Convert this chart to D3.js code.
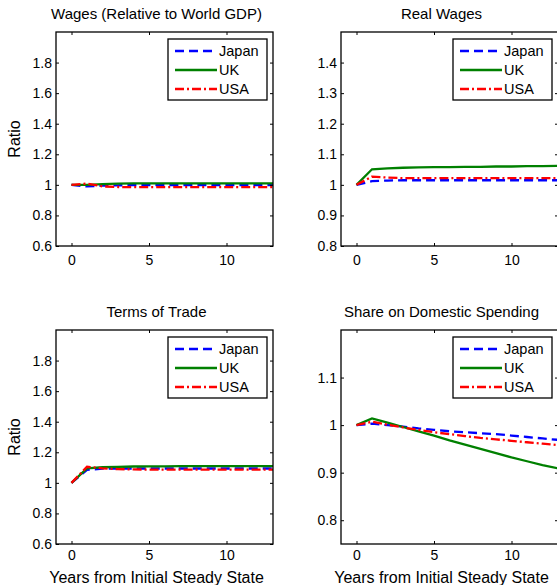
<html>
<head>
  <meta charset="utf-8">
  <title>Steady state transition</title>
  <script src="https://d3js.org/d3.v7.min.js"></script>
  <style>
    body { margin: 0; overflow: hidden; background: #fff; }
    text { font-family: Arial, "Liberation Sans", sans-serif; fill: #000; }
  </style>
</head>
<body>
<div id="chart"></div>
<script>
// years after the shock (the plots are cut at 13)
const years = [0, 1, 2, 3, 4, 5, 6, 7, 8, 9, 10, 11, 12, 13];
const countries = ["Japan", "UK", "USA"];

// Wages (Relative to World GDP)
const wagesJapan = [1.0, 0.99, 0.995, 0.997, 0.998, 0.998, 0.998, 0.998, 0.998, 0.998, 0.998, 0.998, 0.998, 0.998];
const wagesUK    = [1.0, 1.0, 1.005, 1.008, 1.01, 1.01, 1.01, 1.01, 1.01, 1.01, 1.01, 1.01, 1.01, 1.01];
const wagesUSA   = [1.0, 1.008, 0.99, 0.986, 0.985, 0.985, 0.985, 0.985, 0.985, 0.985, 0.985, 0.985, 0.985, 0.985];

// Real Wages
const realJapan = [1.0, 1.012, 1.014, 1.015, 1.015, 1.015, 1.015, 1.015, 1.015, 1.015, 1.015, 1.015, 1.015, 1.015];
const realUK    = [1.0, 1.051, 1.054, 1.056, 1.057, 1.058, 1.058, 1.059, 1.059, 1.06, 1.06, 1.061, 1.061, 1.062];
const realUSA   = [1.0, 1.027, 1.024, 1.022, 1.022, 1.022, 1.022, 1.022, 1.022, 1.022, 1.022, 1.022, 1.022, 1.022];

// Terms of Trade
const totJapan = [1.0, 1.085, 1.093, 1.094, 1.094, 1.094, 1.094, 1.094, 1.094, 1.094, 1.094, 1.094, 1.094, 1.094];
const totUK    = [1.0, 1.095, 1.102, 1.105, 1.107, 1.108, 1.108, 1.109, 1.109, 1.109, 1.11, 1.11, 1.11, 1.11];
const totUSA   = [1.0, 1.105, 1.095, 1.09, 1.088, 1.087, 1.087, 1.087, 1.087, 1.087, 1.087, 1.087, 1.087, 1.087];

// Share on Domestic Spending
const shareJapan = [1.0, 1.003, 1.0, 0.997, 0.993, 0.99, 0.987, 0.985, 0.983, 0.981, 0.978, 0.975, 0.972, 0.969];
const shareUK    = [1.0, 1.014, 1.005, 0.996, 0.987, 0.978, 0.968, 0.959, 0.95, 0.941, 0.932, 0.924, 0.916, 0.909];
const shareUSA   = [1.0, 1.007, 1.001, 0.995, 0.99, 0.985, 0.981, 0.977, 0.973, 0.97, 0.967, 0.964, 0.961, 0.958];

const xTicks = [0, 5, 10];
const yTicksWide = [0.6, 0.8, 1, 1.2, 1.4, 1.6, 1.8];
const yTicksReal = [0.8, 0.9, 1, 1.1, 1.2, 1.3, 1.4];
const yTicksShare = [0.8, 0.9, 1, 1.1];

const colors = {Japan: "#0000ff", UK: "#008000", USA: "#ff0000"};
const dashes = {Japan: "9,5", UK: null, USA: "9,3,2,3"};

const panels = [
  {title: "Wages (Relative to World GDP)", ylabel: "Ratio", xlabel: null,
   yDomain: [0.6, 2.0], yTicks: yTicksWide, data: [wagesJapan, wagesUK, wagesUSA],
   left: 56, top: 32, pad: 9},
  {title: "Real Wages", ylabel: null, xlabel: null,
   yDomain: [0.8, 1.5], yTicks: yTicksReal, data: [realJapan, realUK, realUSA],
   left: 341, top: 32, pad: 9},
  {title: "Terms of Trade", ylabel: "Ratio", xlabel: "Years from Initial Steady State",
   yDomain: [0.6, 2.0], yTicks: yTicksWide, data: [totJapan, totUK, totUSA],
   left: 56, top: 330, pad: 6},
  {title: "Share on Domestic Spending", ylabel: null, xlabel: "Years from Initial Steady State",
   yDomain: [0.75, 1.2], yTicks: yTicksShare, data: [shareJapan, shareUK, shareUSA],
   left: 341, top: 330, pad: 6}
];

const W = 217, H = 214;

const svg = d3.select("#chart").append("svg")
    .attr("width", 620)
    .attr("height", 585);

const fmt = d3.format("~g");

panels.forEach(function(p, i) {
  const g = svg.append("g").attr("transform", `translate(${p.left},${p.top})`);

  const x = d3.scaleLinear().domain([-1, 13]).range([0, W]);
  const y = d3.scaleLinear().domain(p.yDomain).range([H, 0]);

  g.append("clipPath").attr("id", "clip" + i)
    .append("rect").attr("width", W).attr("height", H);

  // lines
  const line = d3.line()
      .x(function(d, j) { return x(years[j]); })
      .y(function(d) { return y(d); });

  countries.forEach(function(c, k) {
    g.append("path")
      .datum(p.data[k])
      .attr("clip-path", `url(#clip${i})`)
      .attr("fill", "none")
      .attr("stroke", colors[c])
      .attr("stroke-width", 2.3)
      .attr("stroke-dasharray", dashes[c])
      .attr("d", line);
  });

  // axes, ticks pointing inward
  g.append("g").attr("transform", `translate(0,${H})`)
    .call(d3.axisBottom(x).tickValues(xTicks).tickSize(-3).tickPadding(p.pad).tickFormat(fmt));
  g.append("g")
    .call(d3.axisTop(x).tickValues(xTicks).tickSize(-3).tickFormat(""));
  g.append("g")
    .call(d3.axisLeft(y).tickValues(p.yTicks).tickSize(-3).tickPadding(4).tickFormat(fmt));
  g.append("g").attr("transform", `translate(${W},0)`)
    .call(d3.axisRight(y).tickValues(p.yTicks).tickSize(-3).tickFormat(""));

  g.selectAll(".domain").remove();
  g.selectAll(".tick line").attr("stroke", "#000");
  g.selectAll(".tick text").attr("font-size", 14).attr("font-family", "Arial, 'Liberation Sans', sans-serif");

  g.append("rect")
    .attr("width", W).attr("height", H)
    .attr("fill", "none").attr("stroke", "#000").attr("stroke-width", 1.3);

  // title and labels
  g.append("text")
    .attr("x", W / 2 - 8).attr("y", -13)
    .attr("text-anchor", "middle")
    .attr("font-size", 15)
    .text(p.title);

  if (p.ylabel) {
    g.append("text")
      .attr("transform", `translate(-36,${H / 2}) rotate(-90)`)
      .attr("text-anchor", "middle")
      .attr("font-size", 16)
      .text(p.ylabel);
  }
  if (p.xlabel) {
    g.append("text")
      .attr("x", W / 2 - 8).attr("y", H + 39)
      .attr("text-anchor", "middle")
      .attr("font-size", 16)
      .text(p.xlabel);
  }

  // legend
  const lg = g.append("g").attr("transform", `translate(${W - 105},7)`);
  lg.append("rect")
    .attr("width", 99).attr("height", 61)
    .attr("fill", "#fff").attr("stroke", "#000").attr("stroke-width", 1.3);
  countries.forEach(function(c, k) {
    const yy = 12 + k * 19;
    lg.append("line")
      .attr("x1", 7).attr("x2", 49).attr("y1", yy).attr("y2", yy)
      .attr("stroke", colors[c]).attr("stroke-width", 2.3)
      .attr("stroke-dasharray", dashes[c]);
    lg.append("text")
      .attr("x", 51).attr("y", yy).attr("dy", "0.35em")
      .attr("font-size", 14.5)
      .text(c);
  });
});
</script>
</body>
</html>
